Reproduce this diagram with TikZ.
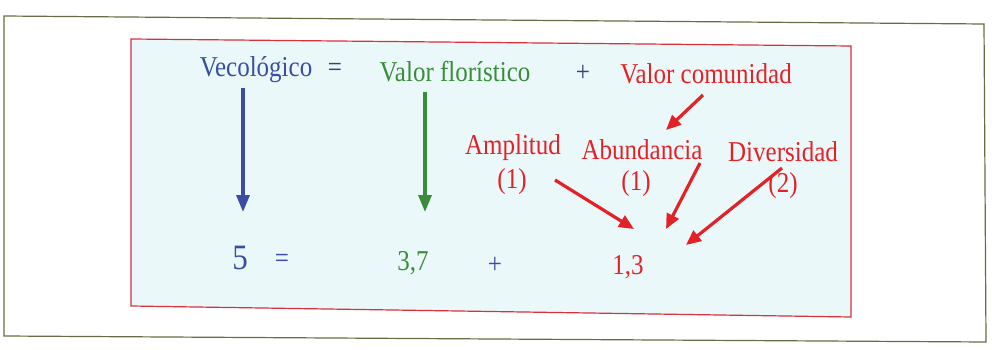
\documentclass[tikz,border=0pt]{standalone}
\usepackage{fontspec}
\usepackage{graphicx}
\setmainfont{Liberation Serif}
\usetikzlibrary{arrows.meta}
\definecolor{cblue}{HTML}{3A4DA3}
\definecolor{cgreen}{HTML}{3A8C3A}
\definecolor{cred}{HTML}{E32228}
\definecolor{cnavy}{HTML}{3A4070}
\definecolor{cfill}{HTML}{EAF8FA}
\definecolor{cframe}{HTML}{6A6A45}
\definecolor{cbord}{HTML}{D8303C}
\newcommand\vstr[1]{\scalebox{1}[1.15]{#1}}
\tikzset{
  lbl/.style={inner sep=0pt, font=\fontsize{25}{25}\selectfont},
  big/.style={inner sep=0pt, font=\fontsize{31}{31}\selectfont},
  arr/.style={line width=3.2pt, -{Triangle[length=17pt,width=13pt]}},
  rarr/.style={line width=3.2pt, cred, -{Triangle[length=15pt,width=13pt]}}
}
\begin{document}
\begin{tikzpicture}[x=1pt,y=-1pt]
\useasboundingbox (0,0) rectangle (992,350);
\fill[white] (0,0) rectangle (992,350);
\draw[cframe, line width=1.2pt] (4,16) -- (984,24) -- (986,342) -- (4,336) -- cycle;
\draw[cbord, line width=1.2pt, fill=cfill] (131,39) -- (851,46) -- (851,317) -- (131,306) -- cycle;

\node[lbl, text=cblue] (vec) at (256,70) {\vstr{Vecológico}};
\node[lbl, text=cnavy] (eq1) at (335,70) {\vstr{=}};
\node[lbl, text=cgreen] (flo) at (455,72) {\vstr{Valor florístico}};
\node[lbl, text=cnavy] (plus1) at (583,73) {\vstr{+}};
\node[lbl, text=cred] (com) at (706,74) {\vstr{Valor comunidad}};

\node[lbl, text=cred] (amp) at (513,148) {\vstr{Amplitud}};
\node[lbl, text=cred] (amp1) at (512,182) {\vstr{(1)}};
\node[lbl, text=cred] (abu) at (642,150) {\vstr{Abundancia}};
\node[lbl, text=cred] (abu1) at (636,184) {\vstr{(1)}};
\node[lbl, text=cred] (div) at (783,152) {\vstr{Diversidad}};
\node[lbl, text=cred] (div1) at (783,186) {\vstr{(2)}};

\node[big, text=cblue] (five) at (240,258) {\vstr{5}};
\node[lbl, text=cblue] (eq2) at (282,261) {\vstr{=}};
\node[lbl, text=cgreen] (n37) at (413,263) {\vstr{3,7}};
\node[lbl, text=cblue] (plus2) at (495,265) {\vstr{+}};
\node[lbl, text=cred] (n13) at (628,267) {\vstr{1,3}};

\coordinate (b1) at (243,88);  \coordinate (b2) at (243,212);
\coordinate (g1) at (425,92);  \coordinate (g2) at (425,212);
\coordinate (c1) at (703,95);  \coordinate (c2) at (666,130);
\coordinate (a1) at (555,180); \coordinate (a2) at (634,229);
\coordinate (u1) at (700,163); \coordinate (u2) at (666,229);
\coordinate (d1) at (782,168); \coordinate (d2) at (686,245);

\draw[arr, cblue] (b1) -- (b2);
\draw[arr, cgreen] (g1) -- (g2);
\draw[rarr] (c1) -- (c2);
\draw[rarr] (a1) -- (a2);
\draw[rarr] (u1) -- (u2);
\draw[rarr] (d1) -- (d2);
\end{tikzpicture}
\end{document}
